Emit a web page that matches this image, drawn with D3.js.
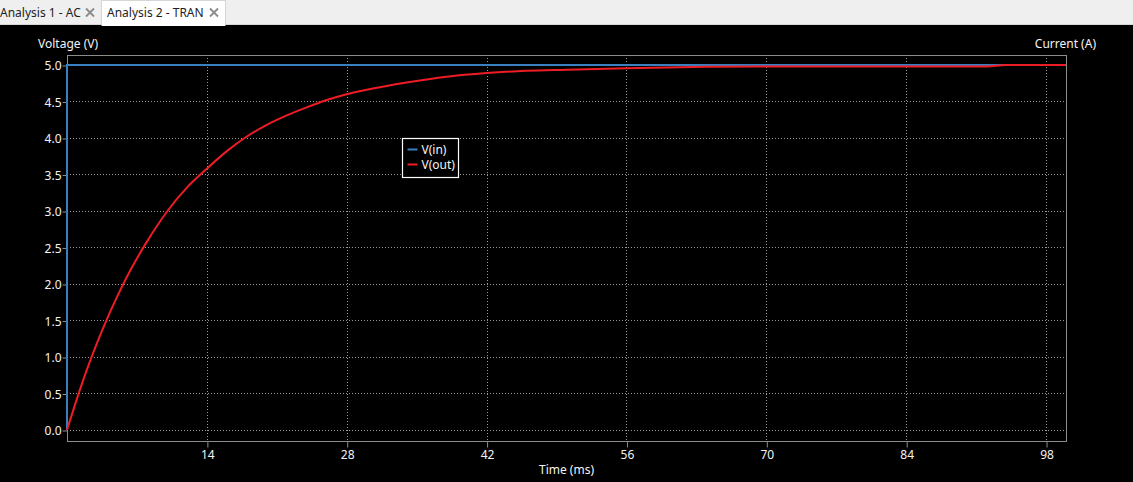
<!DOCTYPE html>
<html>
<head>
<meta charset="utf-8">
<script src="https://cdn.jsdelivr.net/npm/d3@7"></script>
<style>
  html, body { margin: 0; padding: 0; background: #000; overflow: hidden; }
  svg { display: block; font-family: "Noto Sans", "Open Sans", sans-serif; }
  .tab-text { font-size: 12px; fill: #1e1e1e; }
  .axis-text { font-size: 12px; fill: #f4f4f4; }
  .grid line { stroke: #9a9a9a; stroke-dasharray: 1,2; }
</style>
</head>
<body>
<svg id="chart" width="1133" height="482"></svg>
<script>
// tabs
const tabs = ["Analysis 1 - AC", "Analysis 2 - TRAN"];

// time axis (ms)
const xTicks = [14, 28, 42, 56, 70, 84, 98];
const yTicks = [0, 0.5, 1, 1.5, 2, 2.5, 3, 3.5, 4, 4.5, 5];

// V(in): step to 5 V at t = 0
const vinT = [0, 0, 100];
const vinV = [0, 5, 5];

// V(out)
const voutT = [0, 1, 2, 3, 4, 5, 6, 7, 8, 10, 12, 14, 16, 18, 20, 22, 24, 26, 28, 30,
               34, 38, 42, 46, 50, 56, 60, 64, 70, 80, 92, 94, 100];
const voutV = [0, 0.43, 0.83, 1.19, 1.52, 1.82, 2.10, 2.35, 2.58, 2.99, 3.32, 3.58, 3.82, 4.02, 4.18, 4.31, 4.42, 4.52, 4.60, 4.66,
               4.76, 4.84, 4.89, 4.92, 4.935, 4.955, 4.965, 4.975, 4.98, 4.98, 4.98, 5.0, 5.0];

const series = [
  {name: "V(in)", color: "#3a7fc0", t: vinT, v: vinV, curve: d3.curveLinear},
  {name: "V(out)", color: "#ee1c24", t: voutT, v: voutV, curve: d3.curveMonotoneX}
];

const svg = d3.select("#chart");
const W = 1133, H = 482;

// Tab bar ---------------------------------------------------------
const tabBar = svg.append("g");
tabBar.append("rect").attr("width", W).attr("height", 25).attr("fill", "#efefef");
tabBar.append("line").attr("x1", 0).attr("x2", W).attr("y1", 24.5).attr("y2", 24.5)
    .attr("stroke", "#d6d6d6");
tabBar.append("rect").attr("x", 101.5).attr("y", 0.5).attr("width", 124).attr("height", 24.5)
    .attr("fill", "#fff").attr("stroke", "#d6d6d6");
tabBar.append("rect").attr("x", 102).attr("y", 22).attr("width", 123).attr("height", 4).attr("fill", "#fff");

const tabX = [0, 107];
const closeX = [90, 214];
tabs.forEach((t, i) => {
  tabBar.append("text").attr("class", "tab-text")
      .attr("x", tabX[i]).attr("y", 17).text(t);
  const cx = closeX[i], cy = 12.5, s = 4;
  tabBar.append("path")
      .attr("d", `M${cx - s},${cy - s}L${cx + s},${cy + s}M${cx + s},${cy - s}L${cx - s},${cy + s}`)
      .attr("stroke", "#8a8a8a").attr("stroke-width", 1.8);
});

// Plot ------------------------------------------------------------
const plot = {left: 67, right: 1066, top: 55, bottom: 441};

const x = d3.scaleLinear().domain([0, 100]).range([plot.left, plot.right]);
const y = d3.scaleLinear().domain([-0.151, 5.137]).range([plot.bottom, plot.top]);

// grid
const grid = svg.append("g").attr("class", "grid");
grid.selectAll(".gx").data(xTicks).enter().append("line")
    .attr("x1", d => Math.round(x(d)) + 0.5).attr("x2", d => Math.round(x(d)) + 0.5)
    .attr("y1", plot.top).attr("y2", plot.bottom);
grid.selectAll(".gy").data(yTicks).enter().append("line")
    .attr("x1", plot.left).attr("x2", plot.right)
    .attr("y1", d => Math.round(y(d)) + 0.5).attr("y2", d => Math.round(y(d)) + 0.5);

// frame
svg.append("rect")
    .attr("x", plot.left + 0.5).attr("y", plot.top + 0.5)
    .attr("width", plot.right - plot.left).attr("height", plot.bottom - plot.top)
    .attr("fill", "none").attr("stroke", "#8c8c8c");

// axes
const xAxis = d3.axisBottom(x).tickValues(xTicks).tickSize(6).tickPadding(3);
const gx = svg.append("g").attr("transform", `translate(0.5,${plot.bottom + 0.5})`).call(xAxis);
const yAxis = d3.axisLeft(y).tickValues(yTicks).tickSize(5).tickPadding(1).tickFormat(d3.format(".1f"));
const gy = svg.append("g").attr("transform", `translate(${plot.left + 0.5},0.5)`).call(yAxis);

[gx, gy].forEach(g => {
  g.select(".domain").remove();
  g.selectAll(".tick line").attr("stroke", "#8c8c8c");
  g.selectAll(".tick text").attr("class", "axis-text").attr("fill", "#f4f4f4")
      .style("font-family", "'Noto Sans', 'Open Sans', sans-serif").style("font-size", "12px");
});
gy.selectAll(".tick text").attr("dy", "0.36em");

// axis titles
svg.append("text").attr("class", "axis-text").attr("x", 38).attr("y", 48).text("Voltage (V)");
svg.append("text").attr("class", "axis-text").attr("x", 1096).attr("y", 48)
    .attr("text-anchor", "end").text("Current (A)");
svg.append("text").attr("class", "axis-text").attr("x", (plot.left + plot.right) / 2).attr("y", 474)
    .attr("text-anchor", "middle").text("Time (ms)");

// lines
svg.append("g").selectAll("path")
  .data(series)
  .enter()
  .append("path")
    .attr("d", d => d3.line().curve(d.curve)
        .x(p => x(p[0])).y(p => y(p[1]))(d.t.map((t, i) => [t, d.v[i]])))
    .attr("fill", "none")
    .attr("stroke", d => d.color)
    .attr("stroke-width", 2);

// legend
const leg = svg.append("g").attr("transform", "translate(402.5,138.5)");
leg.append("rect").attr("width", 56).attr("height", 39)
    .attr("fill", "#000").attr("stroke", "#fff").attr("stroke-width", 1.2);
series.forEach((s, i) => {
  const ly = 11 + i * 15;
  leg.append("line").attr("x1", 5).attr("x2", 15).attr("y1", ly).attr("y2", ly)
      .attr("stroke", s.color).attr("stroke-width", 2);
  leg.append("text").attr("class", "axis-text").attr("x", 19).attr("y", ly + 4).text(s.name);
});
</script>
</body>
</html>
